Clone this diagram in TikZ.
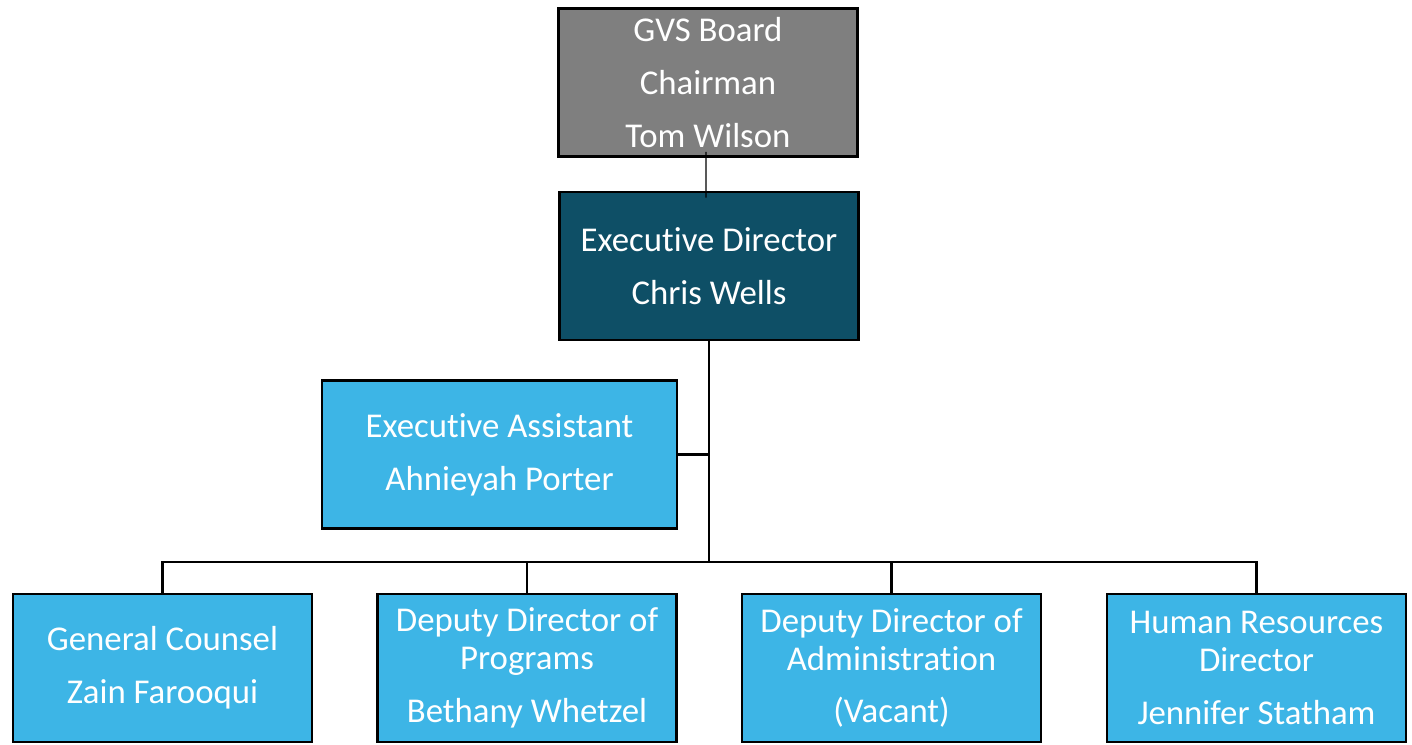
\documentclass[tikz,border=0pt]{standalone}
\usepackage{fontspec}
\setmainfont[Ligatures=NoCommon]{Carlito}
\usetikzlibrary{positioning}

\definecolor{boardgray}{RGB}{127,127,127}
\definecolor{directorteal}{RGB}{14,79,102}
\definecolor{staffblue}{RGB}{61,181,230}

\begin{document}
\begin{tikzpicture}[
    line width=1.5pt,
    orgbox/.style={draw=black, line width=1.6pt, minimum width=5.98cm, minimum height=2.96cm,
      align=center, text=white, inner sep=2pt, font=\fontsize{19.8}{21.6}\selectfont},
    board/.style={orgbox, fill=boardgray},
    director/.style={orgbox, fill=directorteal},
    staff/.style={orgbox, fill=staffblue}
  ]
  \useasboundingbox (0,0) rectangle (28.24,-14.88);

  % top of the chart
  \node [board] (Board) at (14.16,-1.65) {GVS Board\\[8.4pt]Chairman\\[8.4pt]Tom Wilson};
  \node [director] (ExecDirector) at (14.18,-5.32) {Executive Director\\[8.4pt]Chris Wells};
  \node [staff, minimum width=7.1cm] (ExecAssistant) at (9.99,-9.09) {Executive Assistant\\[8.4pt]Ahnieyah Porter};

  % direct reports
  \node [staff] (Counsel) at (3.25,-13.36) {General Counsel\\[8.4pt]Zain Farooqui};
  \node [staff] (Programs) at (10.54,-13.36) {Deputy Director of\\Programs\\[8.4pt]Bethany Whetzel};
  \node [staff] (Administration) at (17.83,-13.36) {Deputy Director of\\Administration\\[8.4pt](Vacant)};
  \node [staff] (HumanResources) at (25.13,-13.36) {Human Resources\\Director\\[8.4pt]Jennifer Statham};

  \coordinate (Bus) at (14.18,-11.24);

  % connectors
  \draw [line width=0.6pt, shorten <=-0.12cm, shorten >=-0.14cm] ([xshift=-0.04cm]Board.south) -- ([xshift=-0.06cm]ExecDirector.north);
  \draw (ExecDirector.south) -- (Bus);
  \draw (ExecAssistant.east) -- (ExecAssistant.east -| ExecDirector.south);
  \foreach \unit in {Counsel, Programs, Administration, HumanResources}
    \draw (Bus) -| (\unit.north);

\end{tikzpicture}
\end{document}
